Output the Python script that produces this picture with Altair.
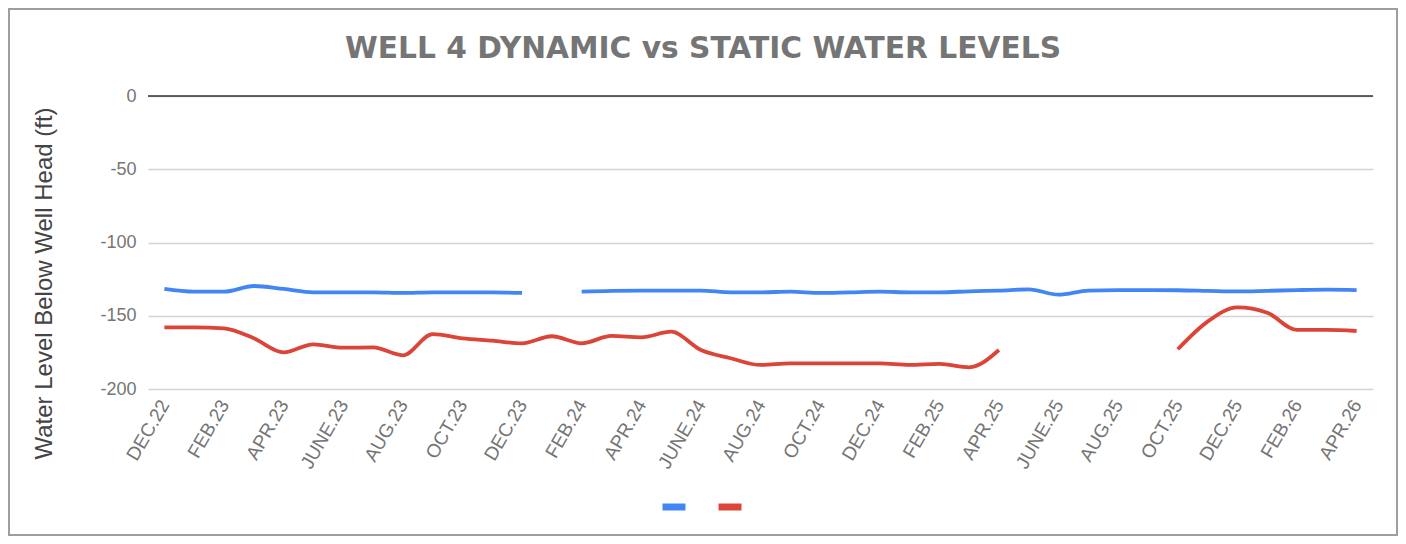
import altair as alt
import pandas as pd

months = [
    "DEC.22", "JAN.23", "FEB.23", "MAR.23", "APR.23", "MAY.23", "JUNE.23", "JULY.23",
    "AUG.23", "SEPT.23", "OCT.23", "NOV.23", "DEC.23", "JAN.24", "FEB.24", "MAR.24",
    "APR.24", "MAY.24", "JUNE.24", "JULY.24", "AUG.24", "SEPT.24", "OCT.24", "NOV.24",
    "DEC.24", "JAN.25", "FEB.25", "MAR.25", "APR.25", "MAY.25", "JUNE.25", "JULY.25",
    "AUG.25", "SEPT.25", "OCT.25", "NOV.25", "DEC.25", "JAN.26", "FEB.26", "MAR.26",
    "APR.26",
]

static_level = [
    -131.7, -133.6, -133.6, -129.7, -131.7, -134.0, -134.0, -134.0,
    -134.4, -134.0, -134.0, -134.0, -134.4, None, -133.6, -133.0,
    -132.8, -132.8, -132.8, -134.0, -134.0, -133.6, -134.4, -134.0,
    -133.6, -134.0, -134.0, -133.3, -132.8, -132.0, -135.6, -132.8,
    -132.5, -132.5, -132.6, -133.0, -133.4, -133.0, -132.5, -132.2,
    -132.5,
]

dynamic_level = [
    -157.9, -157.9, -158.6, -165.4, -175.0, -169.5, -171.8, -171.6,
    -177.0, -162.5, -165.4, -167.0, -168.8, -164.0, -168.8, -163.8,
    -164.7, -160.9, -173.4, -179.0, -183.6, -182.5, -182.5, -182.5,
    -182.5, -183.6, -182.9, -185.2, -173.4, None, None, None,
    None, None, -172.9, -154.0, -144.3, -147.9, -159.7, -159.7,
    -160.4,
]

series_names = ["Static Water Level", "Dynamic Water Level"]
series_colors = ["#4285F4", "#DB4437"]
axis_months = months[::2]
y_ticks = [-200, -150, -100, -50, 0]

rows = []
for name, vals in zip(series_names, [static_level, dynamic_level]):
    seg = 0
    gap = False
    for m, v in zip(months, vals):
        if v is None:
            gap = True
            continue
        if gap:
            seg += 1
            gap = False
        rows.append({"month": m, "level": v, "series": name, "segment": f"{name}-{seg}"})
df = pd.DataFrame(rows)

x_enc = alt.X(
    "month:N",
    scale=alt.Scale(type="point", domain=months, padding=0.55),
    axis=alt.Axis(
        values=axis_months, labelAngle=300, title=None, domain=False, ticks=False,
        grid=False, labelColor="#757575", labelFontSize=19, labelFont="Liberation Sans",
        labelPadding=12,
    ),
)
y_enc = alt.Y(
    "level:Q",
    scale=alt.Scale(domain=[-200, 0], nice=False, zero=False),
    axis=alt.Axis(
        values=y_ticks, domain=False, ticks=False, labelColor="#757575",
        labelFontSize=18, labelFont="Liberation Sans", labelPadding=12,
        labelExpr="toString(datum.value)",
        gridColor="#d3d3d3", gridWidth=1.5,
        title="Water Level Below Well Head (ft)", titleFontSize=24,
        titleFont="Liberation Sans", titleFontWeight="normal", titleColor="#444444",
        titleX=-92, titleY=187,
    ),
)

lines = alt.Chart(df).mark_line(interpolate="monotone", strokeWidth=3.8).encode(
    x=x_enc,
    y=y_enc,
    color=alt.Color(
        "series:N",
        scale=alt.Scale(domain=series_names, range=series_colors),
        legend=alt.Legend(
            orient="none", legendX=511, legendY=396, direction="horizontal", title=None,
            symbolType="stroke", symbolStrokeWidth=7, symbolSize=529,
            labelExpr="''", labelFontSize=1, labelOffset=0, columnPadding=4,
        ),
    ),
    detail="segment:N",
)

zero_rule = alt.Chart(pd.DataFrame({"z": [0]})).mark_rule(
    color="#333333", strokeWidth=1.5
).encode(y=alt.Y("z:Q"))

frame = alt.Chart(pd.DataFrame({"f": [0]})).mark_rect(
    fill="transparent", stroke="#9e9e9e", strokeWidth=2
).encode(
    x=alt.value(-139), x2=alt.value(1249), y=alt.value(-87), y2=alt.value(439)
)

chart = alt.layer(lines, zero_rule, frame).properties(
    width=1225,
    height=293,
    padding=0,
    background="white",
    title=alt.Title(
        "WELL 4 DYNAMIC vs STATIC WATER LEVELS",
        anchor="middle", frame="bounds", offset=30, dy=87, fontSize=29.7,
        font="DejaVu Sans", fontWeight="bold", color="#757575",
    ),
).configure_view(strokeWidth=0)

chart.save("out.html", embed_options={"renderer": "svg", "actions": False})
